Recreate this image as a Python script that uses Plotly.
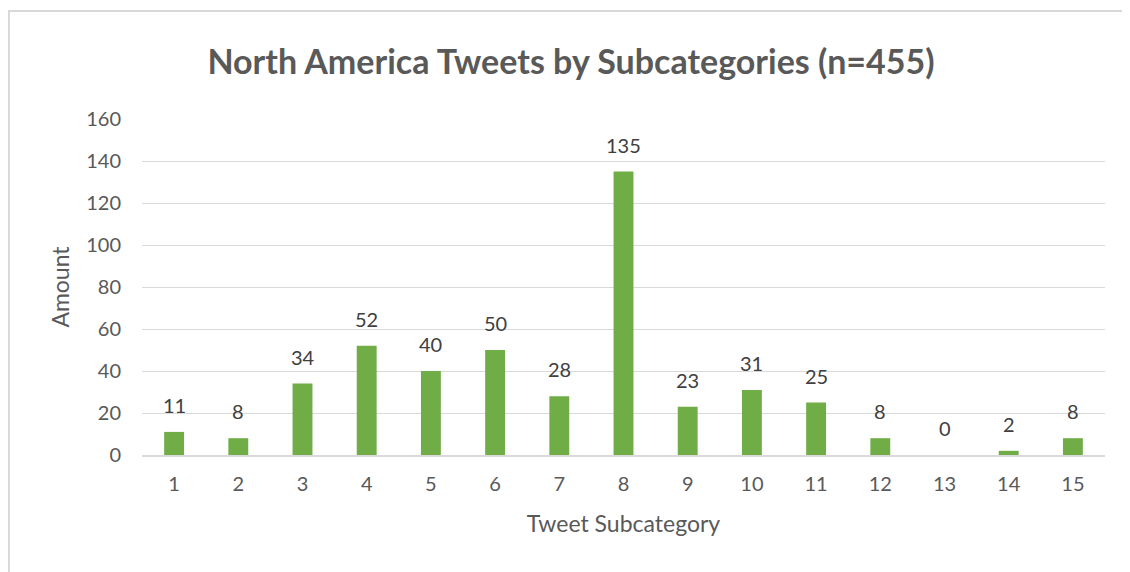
import plotly.graph_objects as go

categories = list(range(1, 16))
values = [11, 8, 34, 52, 40, 50, 28, 135, 23, 31, 25, 8, 0, 2, 8]
y_ticks = [0, 20, 40, 60, 80, 100, 120, 140, 160]

FONT = "Lato, 'Open Sans', sans-serif"
GREY = "#595959"

W, H = 1122, 564
L, R, T, B = 134, 25, 111, 117
PW, PH = W - L - R, H - T - B

fig = go.Figure(go.Bar(
    x=categories, y=values,
    marker=dict(color="#70AD47", line=dict(width=0)),
    cliponaxis=False,
))

for c, v in zip(categories, values):
    fig.add_annotation(x=c, y=v, xref="x", yref="y", text=str(v), showarrow=False,
                       yanchor="middle", yshift=27,
                       font=dict(family=FONT, size=20, color="#404040"))

fig.update_layout(
    width=W, height=H,
    paper_bgcolor="white", plot_bgcolor="white",
    margin=dict(l=L, r=R, t=T, b=B, autoexpand=False),
    bargap=0.69,
    showlegend=False,
    title=dict(text="<b>North America Tweets by Subcategories (n=455)</b>",
               x=(571 - 8) / W, xanchor="center", y=1 - 54 / H, yanchor="middle",
               font=dict(family=FONT, size=34, color=GREY)),
    font=dict(family=FONT, color=GREY),
    xaxis=dict(
        type="linear", range=[0.5, 15.5], tickvals=categories,
        ticktext=[str(c) for c in categories],
        showgrid=False, showline=True, linecolor="#d9d9d9", linewidth=1.5,
        zeroline=False, ticks="", tickfont=dict(size=20, color=GREY), ticklabelstandoff=10,
        automargin=False,
        title=dict(text="Tweet Subcategory", font=dict(size=23, color=GREY), standoff=22),
    ),
    yaxis=dict(
        range=[0, 160], tickvals=y_ticks, showgrid=True, gridcolor="#d9d9d9", gridwidth=1,
        zeroline=False, showline=False, ticks="", tickfont=dict(size=20, color=GREY),
        ticklabelstandoff=20, automargin=False,
        title=dict(text="Amount", font=dict(size=23, color=GREY), standoff=10),
    ),
    shapes=[dict(type="rect", xref="paper", yref="paper",
                 x0=(1 - L) / PW, x1=1.1, y0=-0.5, y1=1 + (T - 3) / PH,
                 line=dict(color="#d9d9d9", width=2), layer="below")],
)

fig.write_html("out.html")
